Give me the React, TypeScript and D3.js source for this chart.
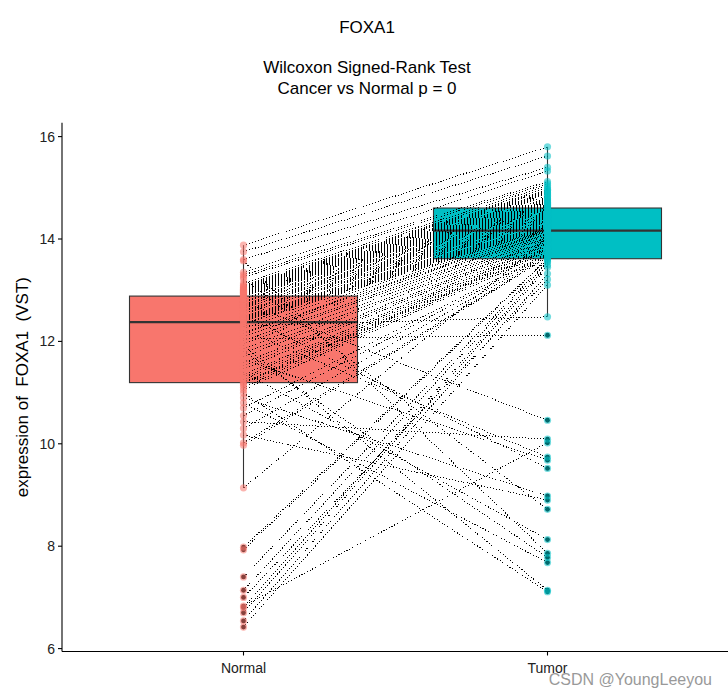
import React from "react";
import * as d3 from "d3";

const groups = ["Normal", "Tumor"];
const colors = ["#F8766D", "#00BFC4"];
const yTicks = [6, 8, 10, 12, 14, 16];

// paired samples: normalVals[i] <-> tumorVals[i]
const normalVals = [
  13.88, 13.75, 13.6, 13.57, 13.35, 13.3, 13.26, 13.22, 13.14, 13.1, 13.08, 13.06, 13.04, 13.02, 13.01, 13.0, 12.99, 12.98, 12.97, 12.96, 12.95, 12.94, 12.93, 12.92, 12.9,
  12.88, 12.85, 12.85, 12.82, 12.79, 12.77, 12.76, 12.73, 12.7, 12.69, 12.66, 12.65, 12.61, 12.6, 12.58, 12.55, 12.54, 12.52, 12.49, 12.47, 12.46, 12.44, 12.42, 12.4, 12.39,
  12.36, 12.33, 12.3, 12.26, 12.22, 12.18, 12.15, 12.1, 12.05, 12.01, 11.96, 11.92, 11.86, 11.81, 11.77, 11.7, 11.64, 11.58, 11.52, 11.46, 11.4, 11.35, 11.3, 11.25, 11.2,
  11.18, 11.15, 11.1, 11.05, 10.99, 10.9, 10.8, 10.7, 10.55, 10.43, 10.3, 10.17, 10.02, 9.97, 9.14, 7.98, 7.93, 7.4, 7.14, 7.0, 6.83, 6.8, 6.7, 6.54, 6.42,
];
const tumorVals = [
  15.8, 15.62, 15.4, 7.86, 15.33, 15.12, 15.08, 8.72, 15.04, 15.0, 14.97, 14.95, 14.92, 14.9, 14.88, 14.85, 14.83, 14.8, 14.78, 14.76, 14.74, 14.72, 14.7, 14.68, 14.66,
  14.64, 14.62, 14.6, 14.58, 14.57, 10.46, 14.55, 14.53, 14.5, 14.49, 14.47, 14.44, 14.43, 14.41, 14.38, 14.37, 14.35, 9.52, 14.33, 14.3, 14.29, 14.27, 14.25, 14.24, 14.22,
  14.21, 14.2, 12.48, 14.19, 9.74, 14.17, 14.16, 14.14, 12.12, 14.12, 14.1, 7.14, 14.08, 7.78, 14.05, 14.03, 9.68, 14.0, 13.98, 13.96, 8.13, 13.93, 13.9, 13.88, 13.85,
  13.82, 13.8, 13.78, 13.75, 7.11, 8.98, 7.68, 13.72, 13.7, 10.09, 13.68, 8.9, 13.66, 13.64, 14.02, 13.62, 13.6, 13.57, 13.55, 13.21, 10.02, 13.49, 13.45, 13.32, 13.1,
];

function boxStats(vals: number[]) {
  const s = [...vals].sort(d3.ascending);
  const q1 = d3.quantileSorted(s, 0.25)!;
  const med = d3.quantileSorted(s, 0.5)!;
  const q3 = d3.quantileSorted(s, 0.75)!;
  const iqr = q3 - q1;
  const lo = q1 - 1.5 * iqr;
  const hi = q3 + 1.5 * iqr;
  const inside = s.filter((v) => v >= lo && v <= hi);
  return { q1, med, q3, wLo: d3.min(inside)!, wHi: d3.max(inside)!, outliers: s.filter((v) => v < lo || v > hi) };
}

export default function App() {
  const W = 728;
  const H = 697;
  const x = d3.scalePoint<string>().domain(groups).range([243.5, 547.5]);
  const step = 304;
  const boxW = step * 0.75;
  const y = d3.scaleLinear().domain([6, 16]).range([648.6, 136.6]);
  const panelLeft = 62;
  const panelBottom = 651.5;
  const panelTop = y(16.27);
  const font = "'Liberation Sans', Arial, sans-serif";
  const series = [normalVals, tumorVals];
  const stats = series.map(boxStats);

  return (
    <svg width={W} height={H} style={{ position: "absolute", left: 0, top: 0, background: "#fff" }} fontFamily={font}>
      <rect width={W} height={H} fill="#fff" />
      {/* titles */}
      <text x={367} y={33} textAnchor="middle" fontSize={17} fill="#000">FOXA1</text>
      <text x={367} y={73} textAnchor="middle" fontSize={17} fill="#000">Wilcoxon Signed-Rank Test</text>
      <text x={367} y={94} textAnchor="middle" fontSize={17} fill="#000">Cancer vs Normal p = 0</text>

      {/* boxplots */}
      {groups.map((g, i) => {
        const st = stats[i];
        const cx = x(g)!;
        return (
          <g key={g}>
            <line x1={cx} x2={cx} y1={y(st.wHi)} y2={y(st.q3)} stroke="#333" strokeWidth={1.1} />
            <line x1={cx} x2={cx} y1={y(st.q1)} y2={y(st.wLo)} stroke="#333" strokeWidth={1.1} />
            <rect x={cx - boxW / 2} y={y(st.q3)} width={boxW} height={y(st.q1) - y(st.q3)} fill={colors[i]} stroke="#333" strokeWidth={1.1} />
            <line x1={cx - boxW / 2} x2={cx + boxW / 2} y1={y(st.med)} y2={y(st.med)} stroke="#333" strokeWidth={2.2} />
            {st.outliers.map((v, k) => (
              <circle key={k} cx={cx} cy={y(v)} r={2.4} fill="#000" />
            ))}
          </g>
        );
      })}

      {/* paired lines */}
      <g shapeRendering="crispEdges">
        {normalVals.map((v, i) => (
          <line
            key={i}
            x1={x("Normal")!}
            y1={y(v)}
            x2={x("Tumor")!}
            y2={y(tumorVals[i])}
            stroke="#000"
            strokeWidth={1}
            strokeDasharray="1 2"
          />
        ))}
      </g>

      {/* points */}
      {series.map((vals, i) =>
        vals.map((v, k) => (
          <circle key={`${i}-${k}`} cx={x(groups[i])!} cy={y(v)} r={3.6} fill={colors[i]} fillOpacity={0.55} />
        ))
      )}

      {/* axes */}
      <line x1={panelLeft} x2={panelLeft} y1={panelTop} y2={panelBottom} stroke="#000" strokeWidth={1.1} />
      <line x1={panelLeft} x2={W} y1={panelBottom} y2={panelBottom} stroke="#000" strokeWidth={1.1} />
      {yTicks.map((t) => (
        <g key={t}>
          <line x1={panelLeft - 4} x2={panelLeft} y1={y(t)} y2={y(t)} stroke="#000" strokeWidth={1.1} />
          <text x={panelLeft - 7} y={y(t)} dy="0.35em" textAnchor="end" fontSize={14} fill="#222">{t}</text>
        </g>
      ))}
      {groups.map((g) => (
        <g key={g}>
          <line x1={x(g)!} x2={x(g)!} y1={panelBottom} y2={panelBottom + 4} stroke="#000" strokeWidth={1.1} />
          <text x={x(g)!} y={panelBottom + 21} textAnchor="middle" fontSize={14} fill="#222">{g}</text>
        </g>
      ))}
      <text transform={`translate(28,${(panelTop + panelBottom) / 2}) rotate(-90)`} textAnchor="middle" fontSize={17} fill="#000" style={{ whiteSpace: "pre" }}>
        {"expression of  FOXA1  (VST)"}
      </text>
      <text x={W - 16} y={685} textAnchor="end" fontSize={16} fill="#999">CSDN @YoungLeeyou</text>
    </svg>
  );
}
